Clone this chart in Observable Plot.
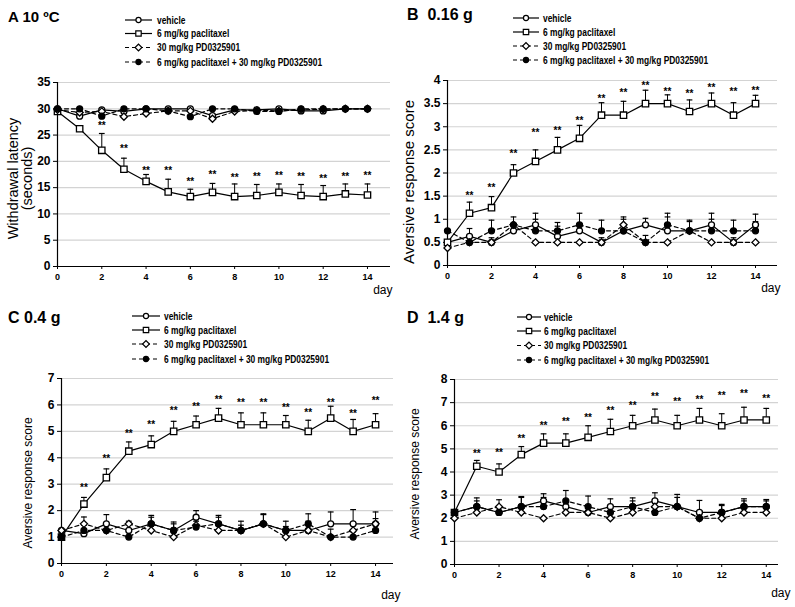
<!DOCTYPE html>
<html><head><meta charset="utf-8">
<script src="https://cdn.jsdelivr.net/npm/d3@7"></script>
<script src="https://cdn.jsdelivr.net/npm/@observablehq/plot@0.6"></script>
<style>
body{margin:0;background:#fff;}
#root{position:relative;width:795px;height:607px;overflow:hidden;background:#fff;font-family:"Liberation Sans",Arial,sans-serif;}
#root svg{position:absolute;overflow:visible;}
</style></head><body><div id="root"></div>
<script>
// ---------- data ----------
const days = [0,1,2,3,4,5,6,7,8,9,10,11,12,13,14];
const dayTicks = [0,2,4,6,8,10,12,14];
const seriesNames = ["vehicle","6 mg/kg paclitaxel","30 mg/kg PD0325901","6 mg/kg paclitaxel + 30 mg/kg PD0325901"];
const panelTitles = ["A 10 \u00BAC","B  0.16 g","C 0.4 g","D  1.4 g"];
const yLabels = ["Withdrawal latency\n(seconds)","Aversive response score","Aversive response score","Aversive response score"];
const yTicksA = [0,5,10,15,20,25,30,35];
const yTicksB = [0,0.5,1,1.5,2,2.5,3,3.5,4];
const yTicksC = [0,1,2,3,4,5,6,7];
const yTicksD = [0,1,2,3,4,5,6,7,8];

// Panel A (10 ºC)
const aVeh   = [30,28.6,29.8,29.5,30,30,30,28.7,29.8,29.8,30,29.6,29.6,30,30];
const aPac   = [29.5,26.2,22.1,18.5,16.2,14.2,13.3,14.1,13.3,13.5,14.1,13.5,13.3,13.8,13.6];
const aPacErr= [null,null,25.3,20.6,17.5,16.6,14.7,15.8,15.7,15.6,15.7,15.6,15.4,15.7,15.7];
const aPD    = [29.8,29.3,29.5,28.5,29.1,29.6,29.6,28.1,29.5,29.7,29.6,29.8,29.9,30,30];
const aCombo = [30,30,28.6,30,30,29.6,28.5,30,30,29.5,29.5,30,30,30,30];
const aStars = [null,null,27.1,22.7,18.6,18.6,16.5,17.8,17.2,17.5,17.6,17.5,17.1,17.5,17.7];

// Panel B (0.16 g)
const bVeh    = [0.5,0.63,0.5,0.75,0.88,0.63,0.75,0.5,0.75,0.88,0.75,0.75,0.88,0.5,0.88];
const bVehErr = [null,0.8,0.6,0.9,1.13,0.93,0.9,0.6,1.0,1.02,1.13,0.95,1.13,0.6,1.11];
const bPac    = [0.5,1.13,1.25,2.0,2.25,2.5,2.75,3.25,3.25,3.5,3.5,3.33,3.5,3.25,3.5];
const bPacErr = [null,1.37,1.49,2.18,2.5,2.77,3.03,3.52,3.55,3.79,3.69,3.58,3.73,3.52,3.68];
const bPD     = [0.38,0.5,0.5,0.88,0.5,0.5,0.5,0.5,0.88,0.5,0.5,0.75,0.5,0.5,0.5];
const bCombo  = [0.75,0.5,0.75,0.88,0.75,0.75,0.88,0.75,0.75,0.5,0.88,0.75,0.75,0.75,0.75];
const bComboErr=[null,0.6,0.98,1.05,1.0,0.85,1.13,0.98,1.05,0.65,1.05,0.98,1.0,0.98,0.95];
const bStars  = [null,1.56,1.73,2.45,2.92,2.96,3.17,3.64,3.77,3.93,3.8,3.75,3.89,3.8,3.82];

// Panel C (0.4 g)
const cVeh    = [1.25,1.13,1.5,1.25,1.5,1.25,1.75,1.5,1.25,1.5,1.25,1.25,1.5,1.5,1.5];
const cVehErr = [null,1.45,1.85,1.6,1.82,1.57,2.0,1.82,1.6,1.88,1.6,1.6,1.95,2.04,1.95];
const cPac    = [1.0,2.25,3.25,4.25,4.5,5.0,5.25,5.5,5.25,5.25,5.25,5.0,5.5,5.0,5.25];
const cPacErr = [null,2.5,3.58,4.6,4.83,5.38,5.58,5.87,5.7,5.7,5.6,5.42,5.95,5.45,5.67];
const cPD     = [1.25,1.5,1.25,1.5,1.25,1.0,1.45,1.25,1.25,1.5,1.0,1.25,1.0,1.25,1.5];
const cCombo  = [1.0,1.25,1.25,1.0,1.5,1.25,1.38,1.5,1.25,1.5,1.25,1.5,1.0,1.0,1.25];
const cComboErr=[null,1.76,1.5,1.3,1.75,1.5,1.6,1.75,1.45,1.85,1.4,1.88,1.3,1.2,1.7];
const cStars  = [null,2.95,4.05,4.97,5.31,5.85,6.02,6.27,6.17,6.17,5.98,5.79,6.17,5.75,6.23];

// Panel D (1.4 g)
const dVeh    = [2.25,2.5,2.25,2.5,2.75,2.5,2.25,2.5,2.5,2.75,2.5,2.25,2.25,2.5,2.5];
const dVehErr = [null,2.75,2.8,2.9,3.06,2.8,2.5,2.84,2.75,3.1,3.03,2.77,2.6,2.75,2.75];
const dPac    = [2.25,4.25,4.0,4.75,5.25,5.25,5.5,5.75,6.0,6.25,6.0,6.25,6.0,6.25,6.25];
const dPacErr = [null,4.5,4.35,5.1,5.65,5.65,6.0,6.28,6.45,6.72,6.45,6.75,6.52,6.8,6.75];
const dPD     = [2.0,2.25,2.5,2.25,2.0,2.25,2.25,2.0,2.25,2.5,2.5,2.0,2.0,2.25,2.25];
const dCombo  = [2.25,2.5,2.25,2.5,2.5,2.75,2.5,2.25,2.5,2.25,2.5,2.0,2.25,2.5,2.5];
const dComboErr=[null,2.88,2.5,2.94,2.9,3.2,2.96,2.5,2.88,2.5,2.9,2.3,2.55,2.84,2.81];
const dStars  = [null,4.86,4.9,5.51,6.08,6.26,6.44,6.73,6.95,7.34,7.12,7.21,7.38,7.45,7.24];

// ---------- styles ----------
const seriesStyle = [
  {symbol:"circle",  fill:"white", dash:null, r:3},
  {symbol:"square",  fill:"white", dash:null, r:3.6},
  {symbol:"diamond2",fill:"white", dash:"4,3", r:3.2},
  {symbol:"circle",  fill:"black", dash:"4,3", r:3}
];

const root = document.getElementById("root");

function makePanel(cfg) {
  const sets = [
    {vals: cfg.veh, err: cfg.vehErr},
    {vals: cfg.pac, err: cfg.pacErr},
    {vals: cfg.pd, err: null},
    {vals: cfg.combo, err: cfg.comboErr}
  ].map((s, k) => ({
    style: seriesStyle[k],
    rows: days.map((d, i) => ({day: d, mean: s.vals[i], upper: s.err ? s.err[i] : null}))
  }));
  const marks = [
    Plot.gridY({ticks: cfg.yticks, stroke: "#d3d3d3", strokeOpacity: 1, strokeWidth: 1.2}),
    Plot.ruleY([0], {stroke: "black", strokeWidth: 1.2}),
    Plot.ruleX([0], {stroke: "black", strokeWidth: 1.2}),
    Plot.axisY({ticks: cfg.yticks, tickSize: 4, tickPadding: 3, fontSize: 12, fontWeight: "bold", label: null, tickFormat: d => String(d)}),
    Plot.axisX({ticks: dayTicks, tickSize: 3, tickPadding: 4, fontSize: 9, fontWeight: "bold", label: null})
  ];
  for (const s of sets) {
    marks.push(Plot.line(s.rows, {x: "day", y: "mean", stroke: "black", strokeWidth: 1.2, strokeDasharray: s.style.dash || undefined}));
  }
  for (const s of sets) {
    const er = s.rows.filter(d => d.upper != null);
    marks.push(Plot.ruleX(er, {x: "day", y1: "mean", y2: "upper", stroke: "black", strokeWidth: 1}));
    marks.push(Plot.link(er, {x1: d => d.day - 0.13, x2: d => d.day + 0.13, y1: "upper", y2: "upper", stroke: "black", strokeWidth: 1.2}));
  }
  for (const s of sets) {
    marks.push(Plot.dot(s.rows, {x: "day", y: "mean", symbol: s.style.symbol, r: s.style.r, fill: s.style.fill, stroke: "black", strokeWidth: 1.3}));
  }
  const starRows = days.map((d, i) => ({day: d, v: cfg.stars[i]})).filter(d => d.v != null);
  marks.push(Plot.text(starRows, {x: "day", y: "v", text: () => "**", fill: "black", fontSize: 10, fontWeight: "bold", dy: 2}));
  marks.push(Plot.text([cfg.ylabel], {text: d => d, fill: "black", frameAnchor: "left", rotate: -90, textAnchor: "middle", lineAnchor: "middle", dx: cfg.ylx, dy: cfg.yly, fontSize: cfg.ylSize, lineHeight: 1}));
  marks.push(Plot.text(["day"], {text: d => d, fill: "black", frameAnchor: "bottom-right", textAnchor: "end", lineAnchor: "middle", dx: cfg.dayDx, dy: cfg.dayDy, fontSize: 12}));

  const svg = Plot.plot({
    width: cfg.width, height: cfg.height,
    marginLeft: cfg.ml, marginRight: cfg.mr, marginTop: cfg.mt, marginBottom: cfg.mb,
    x: {domain: [0, cfg.xmax]},
    y: {domain: [0, cfg.yticks[cfg.yticks.length - 1]]},
    style: {fontFamily: "'Liberation Sans', Arial, sans-serif", color: "black", background: "transparent", overflow: "visible"},
    marks
  });
  svg.style.left = cfg.left + "px";
  svg.style.top = cfg.top + "px";
  root.appendChild(svg);
}

makePanel({left: 0, top: 70, width: 395, height: 230, ml: 57, mr: 5, mt: 12, mb: 34, xmax: 15.04,
  yticks: yTicksA, veh: aVeh, vehErr: null, pac: aPac, pacErr: aPacErr, pd: aPD, combo: aCombo, comboErr: null, stars: aStars,
  ylabel: yLabels[0], ylx: -37, yly: 4, ylSize: 14.5, dayDx: 2, dayDy: 24});
makePanel({left: 395, top: 68, width: 400, height: 230, ml: 52, mr: 18, mt: 12, mb: 33, xmax: 15.0,
  yticks: yTicksB, veh: bVeh, vehErr: bVehErr, pac: bPac, pacErr: bPacErr, pd: bPD, combo: bCombo, comboErr: bComboErr, stars: bStars,
  ylabel: yLabels[1], ylx: -38, yly: 9, ylSize: 15, dayDx: 3, dayDy: 23});
makePanel({left: 0, top: 366, width: 395, height: 241, ml: 61, mr: 2, mt: 12, mb: 44, xmax: 14.8,
  yticks: yTicksC, veh: cVeh, vehErr: cVehErr, pac: cPac, pacErr: cPacErr, pd: cPD, combo: cCombo, comboErr: cComboErr, stars: cStars,
  ylabel: yLabels[2], ylx: -33, yly: 12, ylSize: 12, dayDx: 7, dayDy: 32});
makePanel({left: 395, top: 367, width: 400, height: 240, ml: 59, mr: 17, mt: 12, mb: 43, xmax: 14.55,
  yticks: yTicksD, veh: dVeh, vehErr: dVehErr, pac: dPac, pacErr: dPacErr, pd: dPD, combo: dCombo, comboErr: dComboErr, stars: dStars,
  ylabel: yLabels[3], ylx: -39, yly: 2, ylSize: 12, dayDx: 12, dayDy: 29});

// ---------- titles and legends (overlay) ----------
const ov = d3.select(root).append("svg").attr("width", 795).attr("height", 607).style("left", "0px").style("top", "0px").style("pointer-events", "none");
const titlePos = [[8, 22, 15], [407, 20, 16], [8, 323, 16], [407, 323, 16]];
panelTitles.forEach((t, k) => {
  ov.append("text").attr("x", titlePos[k][0]).attr("y", titlePos[k][1])
    .attr("font-size", titlePos[k][2]).attr("font-weight", "bold").attr("font-family", "'Liberation Sans', Arial, sans-serif")
    .style("white-space", "pre").attr("xml:space", "preserve").text(t);
});
const legendPos = [
  {x0: 125, x1: 152, tx: 157, ys: [20, 33.5, 47.5, 62]},
  {x0: 513, x1: 539, tx: 543, ys: [18, 32, 46, 60]},
  {x0: 132, x1: 160, tx: 164, ys: [316, 330, 344, 359]},
  {x0: 517, x1: 541, tx: 544, ys: [317, 331, 345.5, 360]}
];
const symGen = {circle: d3.symbolCircle, square: d3.symbolSquare, diamond2: d3.symbolSquare};
legendPos.forEach(lp => {
  seriesNames.forEach((name, k) => {
    const st = seriesStyle[k];
    const y = lp.ys[k];
    const g = ov.append("g");
    g.append("line").attr("x1", lp.x0).attr("x2", lp.x1).attr("y1", y).attr("y2", y)
      .attr("stroke", "black").attr("stroke-width", 1.2).attr("stroke-dasharray", st.dash || null);
    const size = Math.PI * (st.r * 0.85) ** 2;
    g.append("path").attr("d", d3.symbol(symGen[st.symbol], size)())
      .attr("transform", `translate(${(lp.x0 + lp.x1) / 2},${y})` + (st.symbol === "diamond2" ? " rotate(45)" : ""))
      .attr("fill", st.fill).attr("stroke", "black").attr("stroke-width", 1.2);
    const t = g.append("text").attr("x", lp.tx).attr("y", y).attr("dy", "0.35em")
      .attr("font-size", 10.5).attr("font-weight", "bold")
      .attr("font-family", "'Liberation Sans', Arial, sans-serif")
      .text(name);
    const w = t.node().getComputedTextLength();
    if (w > 0) t.attr("textLength", w * 0.8).attr("lengthAdjust", "spacingAndGlyphs");
  });
});
</script></body></html>
